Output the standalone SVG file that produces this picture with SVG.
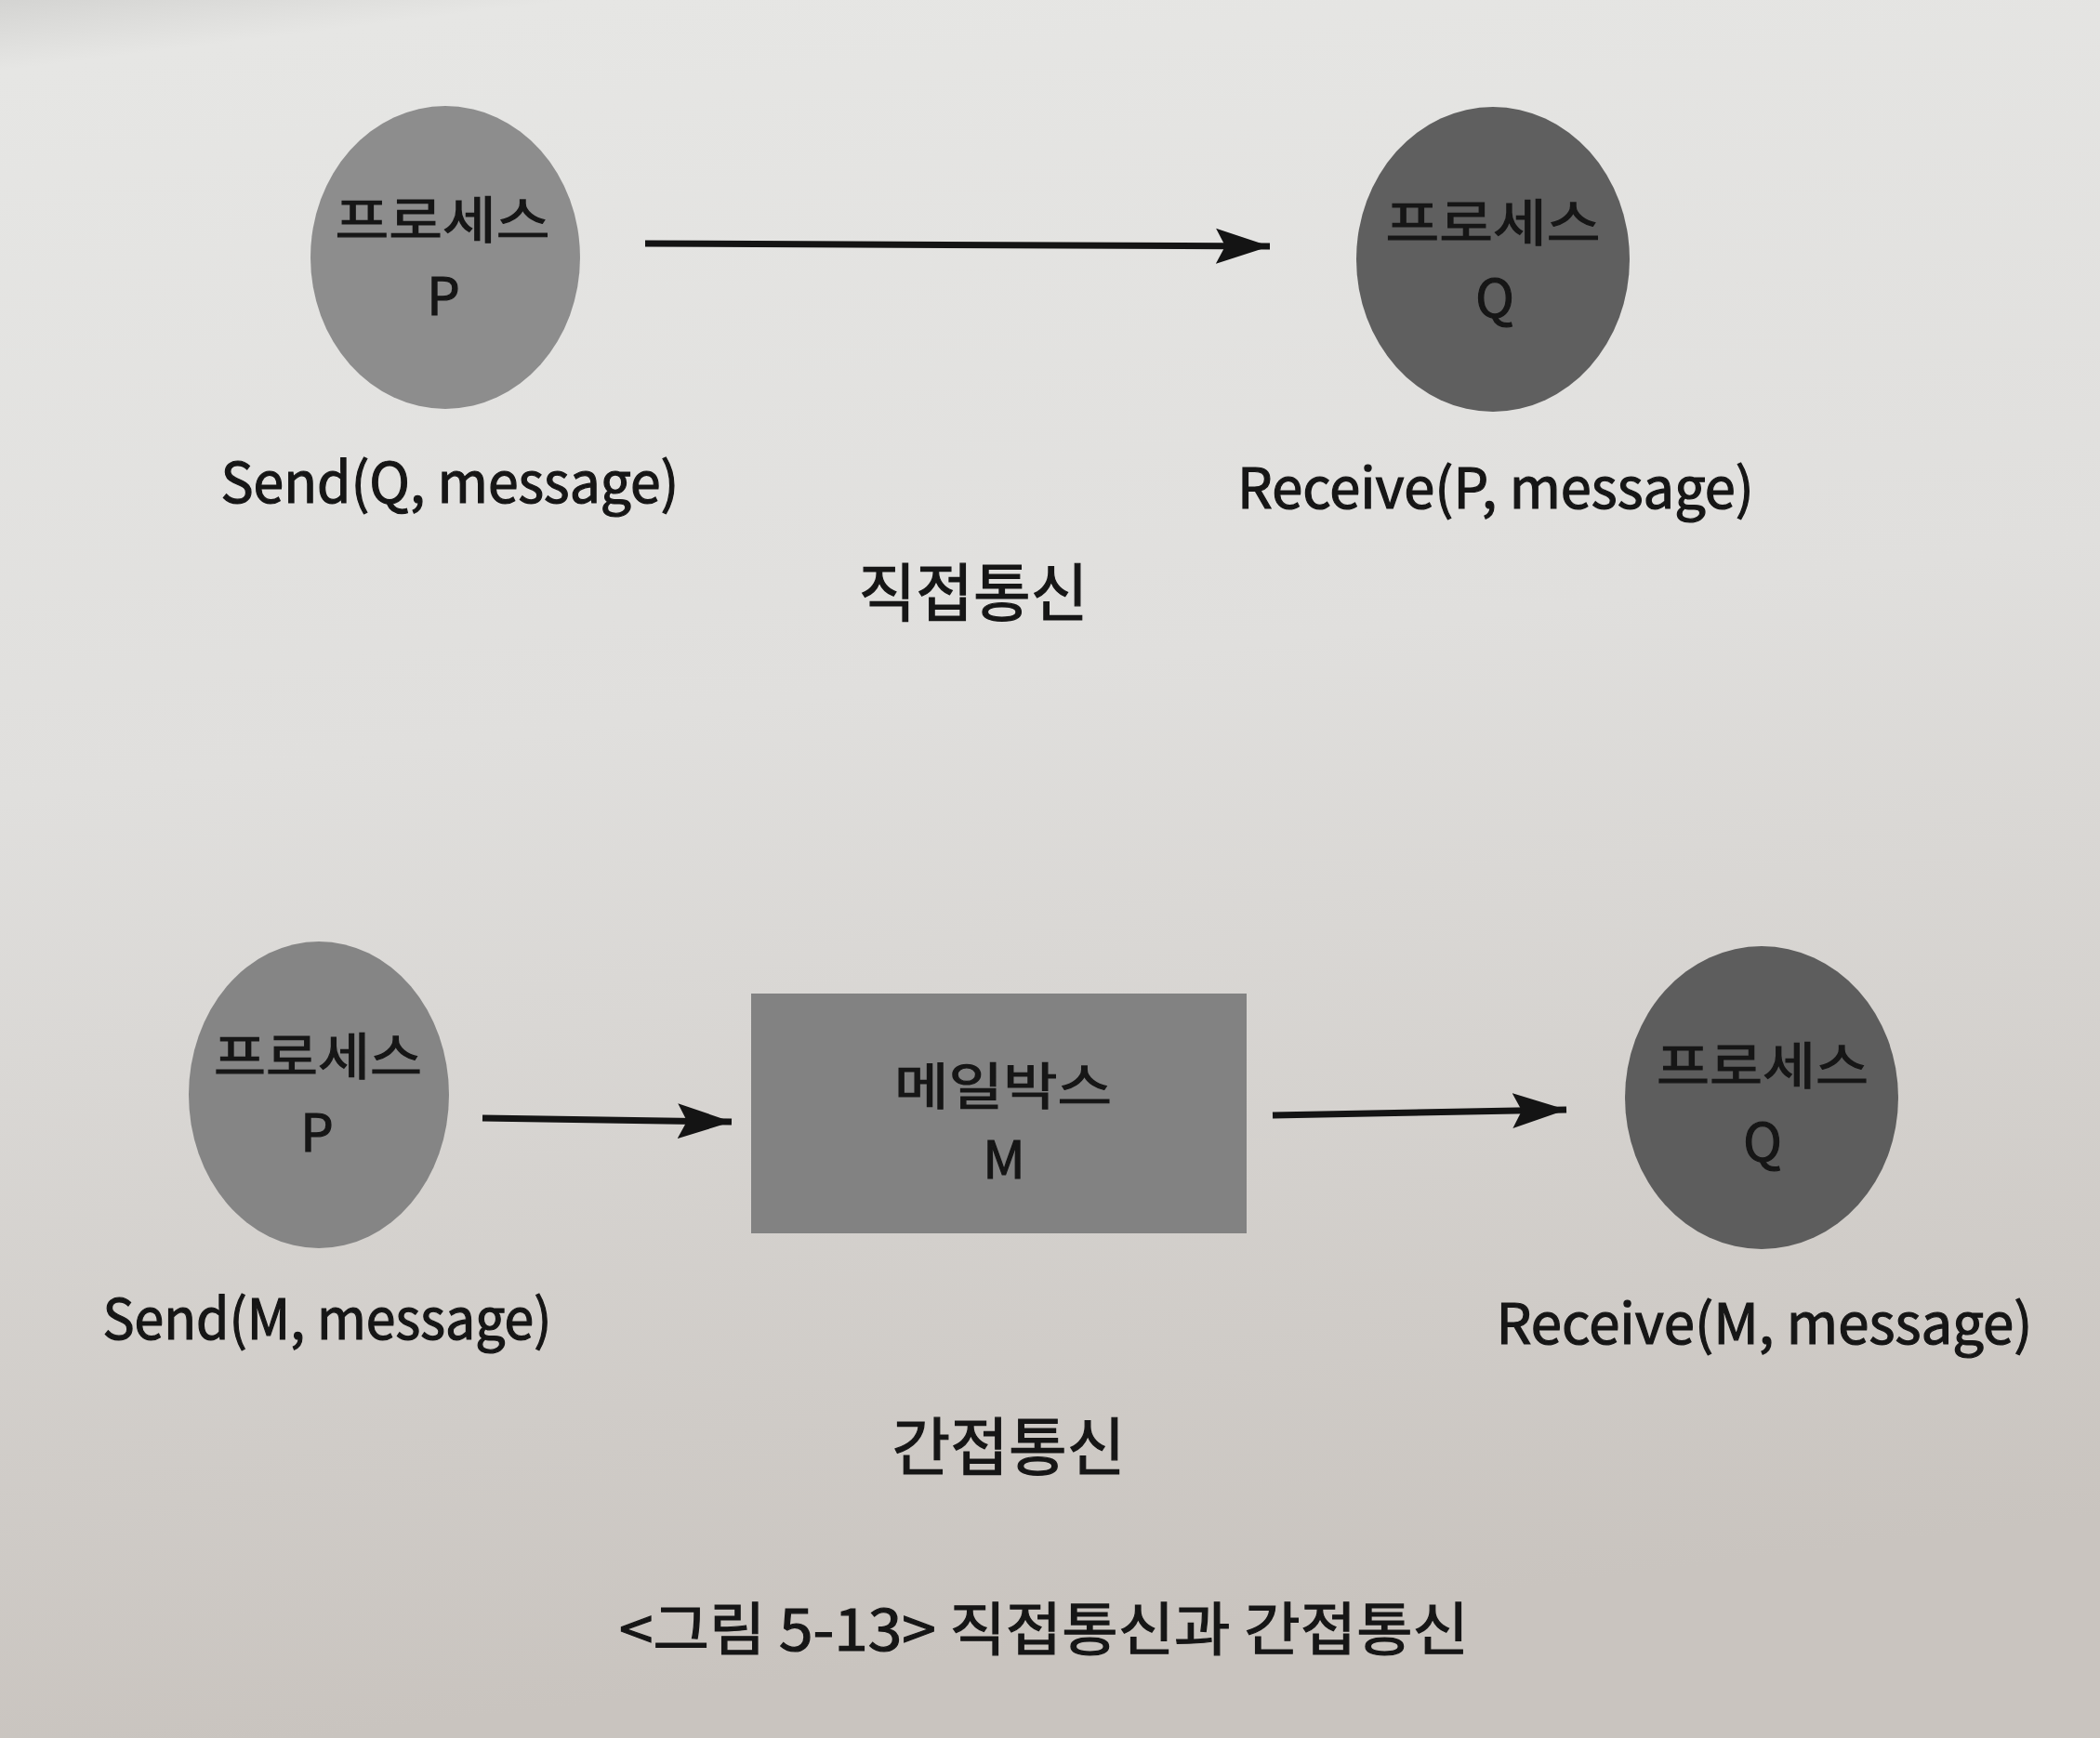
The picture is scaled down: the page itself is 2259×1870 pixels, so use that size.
<svg xmlns="http://www.w3.org/2000/svg" width="2259" height="1870" viewBox="0 0 2259 1870">
  <style>
    .t { font-family: "Noto Sans CJK KR", "Noto Sans", sans-serif; fill: #161616; stroke: #161616; stroke-width: 1.2; text-anchor: middle; }
    .lbl { font-size: 60px; }
    .ko { font-size: 54px; }
    .le { font-size: 56px; }
    .ttl { font-size: 68px; }
    .cap { font-size: 62px; }
    .conn { stroke: #141414; stroke-width: 7; fill: none; }
  </style>
  <defs>
    <linearGradient id="bg" x1="0" y1="0" x2="0.15" y2="1">
      <stop offset="0" stop-color="#d4d4d2"/>
      <stop offset="0.04" stop-color="#e6e6e4"/>
      <stop offset="0.45" stop-color="#e0dfdd"/>
      <stop offset="1" stop-color="#c9c4bf"/>
    </linearGradient>
    <marker id="ah" markerUnits="userSpaceOnUse" markerWidth="62" markerHeight="42" refX="58" refY="20" orient="auto">
      <path d="M0,1 L58,20 L0,39 L10,20 Z" fill="#141414"/>
    </marker>
  </defs>
  <rect x="0" y="0" width="2259" height="1870" fill="url(#bg)"/>

  <g id="connectors">
    <line class="conn" x1="694" y1="262" x2="1366" y2="265" marker-end="url(#ah)"/>
    <line class="conn" x1="519" y1="1203" x2="787" y2="1207" marker-end="url(#ah)"/>
    <line class="conn" x1="1369" y1="1200" x2="1685" y2="1194" marker-end="url(#ah)"/>
  </g>

  <g id="node-direct-p">
    <ellipse cx="479" cy="277" rx="145" ry="163" fill="#8d8d8d"/>
    <text class="t ko" x="476" y="257" textLength="231" lengthAdjust="spacingAndGlyphs">프로세스</text>
    <text class="t le" x="477" y="339">P</text>
  </g>
  <g id="node-direct-q">
    <ellipse cx="1606" cy="279" rx="147" ry="164" fill="#5f5f5f"/>
    <text class="t ko" x="1606" y="260" textLength="231" lengthAdjust="spacingAndGlyphs">프로세스</text>
    <text class="t le" x="1608" y="341">Q</text>
  </g>
  <g id="label-send-q">
    <text class="t lbl" x="484" y="541" textLength="493" lengthAdjust="spacingAndGlyphs">Send(Q, message)</text>
  </g>
  <g id="label-receive-p">
    <text class="t lbl" x="1609" y="547" textLength="556" lengthAdjust="spacingAndGlyphs">Receive(P, message)</text>
  </g>
  <g id="title-direct">
    <text class="t ttl" x="1047" y="663" textLength="247" lengthAdjust="spacingAndGlyphs">직접통신</text>
  </g>

  <g id="node-indirect-p">
    <ellipse cx="343" cy="1178" rx="140" ry="165" fill="#858585"/>
    <text class="t ko" x="342" y="1157" textLength="224" lengthAdjust="spacingAndGlyphs">프로세스</text>
    <text class="t le" x="341" y="1239">P</text>
  </g>
  <g id="node-mailbox">
    <rect x="808" y="1069" width="533" height="258" fill="#828282"/>
    <text class="t ko" x="1079" y="1189" textLength="234" lengthAdjust="spacingAndGlyphs">메일박스</text>
    <text class="t le" x="1080" y="1268">M</text>
  </g>
  <g id="node-indirect-q">
    <ellipse cx="1895" cy="1181" rx="147" ry="163" fill="#5d5d5d"/>
    <text class="t ko" x="1896" y="1167" textLength="228" lengthAdjust="spacingAndGlyphs">프로세스</text>
    <text class="t le" x="1896" y="1249">Q</text>
  </g>
  <g id="label-send-m">
    <text class="t lbl" x="352" y="1441" textLength="483" lengthAdjust="spacingAndGlyphs">Send(M, message)</text>
  </g>
  <g id="label-receive-m">
    <text class="t lbl" x="1898" y="1446" textLength="577" lengthAdjust="spacingAndGlyphs">Receive(M, message)</text>
  </g>
  <g id="title-indirect">
    <text class="t ttl" x="1085" y="1582" textLength="251" lengthAdjust="spacingAndGlyphs">간접통신</text>
  </g>

  <g id="caption">
    <text class="t cap" x="1123" y="1776" textLength="914" lengthAdjust="spacingAndGlyphs">&lt;그림 5-13&gt; 직접통신과 간접통신</text>
  </g>
</svg>
